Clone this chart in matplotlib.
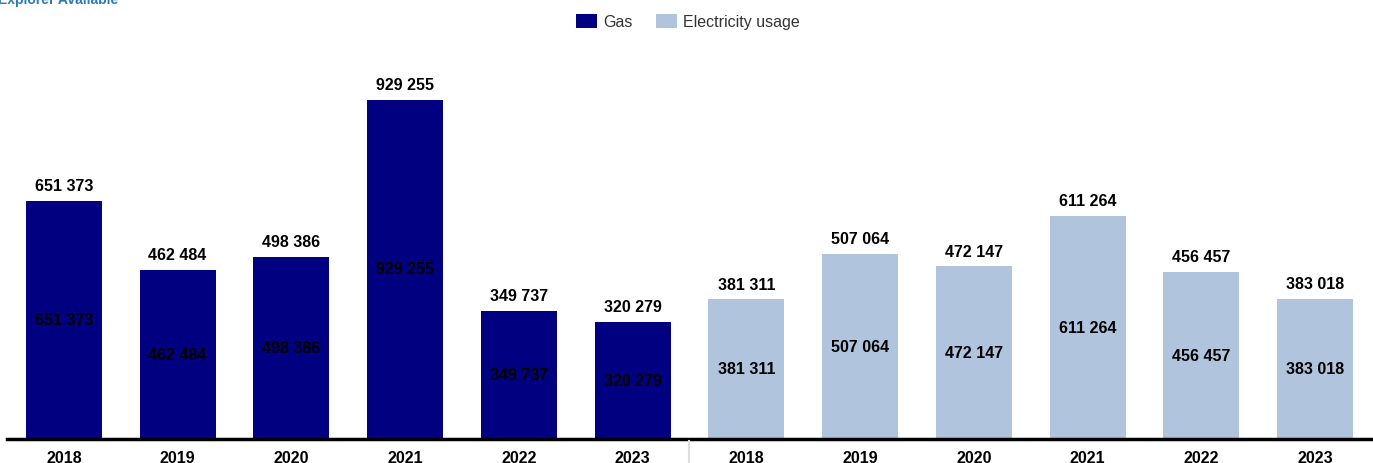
import matplotlib
matplotlib.use("Agg")
import matplotlib.pyplot as plt
import numpy as np

years = ["2018", "2019", "2020", "2021", "2022", "2023"]
gas = [651373, 462484, 498386, 929255, 349737, 320279]
electricity = [381311, 507064, 472147, 611264, 456457, 383018]
series_names = ["Gas", "Electricity usage"]
colors = ["#000080", "#b0c4de"]

plt.rcParams['font.family'] = ['Liberation Sans', 'DejaVu Sans']

W, H = 1373, 464
fig = plt.figure(figsize=(W / 100, H / 100), dpi=100)

base_px = 439.5
top_px = base_px - 1_000_000 * (339 / 929255)
ax = fig.add_axes([7 / W, (H - base_px) / H, (1372 - 7) / W, (base_px - top_px) / H])

def fmt(v):
    return f"{v:,}".replace(",", " ")

n = len(years)
labels = years + years
bw = 0.667
for s, vals in enumerate([gas, electricity]):
    xs = np.arange(n) + s * n
    ax.bar(xs, vals, width=bw, color=colors[s], label=series_names[s], zorder=2)
    for x, v in zip(xs, vals):
        ax.annotate(fmt(v), (x, v), xytext=(0, 5.5), textcoords="offset points",
                    ha="center", va="bottom", fontsize=11.5, fontweight="bold", color="black")
        ax.text(x, v / 2, fmt(v), ha="center", va="center", fontsize=11.5,
                fontweight="bold", color="black", zorder=3)

ax.set_xlim(-0.5, 2 * n - 0.5)
ax.set_ylim(0, 1_000_000)
ax.set_xticks(np.arange(2 * n))
ax.set_xticklabels(labels, fontsize=11.5, fontweight="bold", color="black")
ax.tick_params(axis="x", length=0, pad=8.5)
ax.set_yticks([])
for sp in ["top", "right", "left"]:
    ax.spines[sp].set_visible(False)
ax.spines["bottom"].set_linewidth(2.5)
ax.spines["bottom"].set_color("black")
ax.spines["bottom"].set_zorder(4)

# group separator below axis
sep_x = 689 / W
fig.add_artist(plt.Line2D([sep_x, sep_x], [0, (H - 442) / H], transform=fig.transFigure,
                          color="#dddddd", linewidth=1.5))

leg = fig.legend(loc="center", bbox_to_anchor=(688 / W, 1 - 22.5 / H), ncol=2, frameon=False,
                 fontsize=11.5, handlelength=1.3, handleheight=1.0, handletextpad=0.4,
                 columnspacing=1.5)
for t in leg.get_texts():
    t.set_color("#333333")

fig.text(-2 / W, 1 - 4 / H, "Explorer Available", ha="left", va="baseline",
         fontsize=10, fontweight="bold", color="#2b7bb9")

fig.savefig("out.png", dpi=100)
